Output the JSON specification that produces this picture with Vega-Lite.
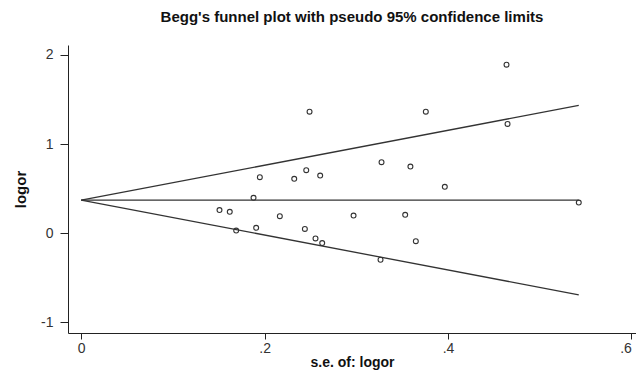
{
  "$schema": "https://vega.github.io/schema/vega-lite/v6.json",
  "width": 568,
  "height": 288,
  "autosize": "none",
  "padding": {"left": 68, "top": 45, "right": 0, "bottom": 38},
  "background": "white",
  "config": {
    "view": {"stroke": null},
    "font": "Liberation Sans",
    "title": {"font": "Liberation Sans", "fontSize": 15, "fontWeight": "bold", "color": "#111"}
  },
  "title": {
    "text": "Begg's funnel plot with pseudo 95% confidence limits",
    "anchor": "middle",
    "offset": 20
  },
  "datasets": {
    "studies": [
      {"se": 0.1508, "logor": 0.258},
      {"se": 0.162, "logor": 0.239},
      {"se": 0.169, "logor": 0.029},
      {"se": 0.1879, "logor": 0.396},
      {"se": 0.1908, "logor": 0.059},
      {"se": 0.1948, "logor": 0.628},
      {"se": 0.2166, "logor": 0.19},
      {"se": 0.2323, "logor": 0.609},
      {"se": 0.2439, "logor": 0.047},
      {"se": 0.2454, "logor": 0.706},
      {"se": 0.249, "logor": 1.363},
      {"se": 0.2555, "logor": -0.06},
      {"se": 0.2606, "logor": 0.646},
      {"se": 0.2628, "logor": -0.112},
      {"se": 0.297, "logor": 0.197},
      {"se": 0.3264, "logor": -0.299},
      {"se": 0.3275, "logor": 0.796},
      {"se": 0.3533, "logor": 0.205},
      {"se": 0.359, "logor": 0.747},
      {"se": 0.3649, "logor": -0.09},
      {"se": 0.3758, "logor": 1.363},
      {"se": 0.3965, "logor": 0.519},
      {"se": 0.4638, "logor": 1.89},
      {"se": 0.4649, "logor": 1.225},
      {"se": 0.5426, "logor": 0.343}
    ],
    "limits": [
      {"se": 0, "logor": 0.37, "limit": "upper"},
      {"se": 0.5426, "logor": 1.433, "limit": "upper"},
      {"se": 0, "logor": 0.37, "limit": "pooled"},
      {"se": 0.5426, "logor": 0.37, "limit": "pooled"},
      {"se": 0, "logor": 0.37, "limit": "lower"},
      {"se": 0.5426, "logor": -0.693, "limit": "lower"}
    ]
  },
  "layer": [
    {
      "data": {"name": "limits"},
      "mark": {"type": "line", "color": "#333", "strokeWidth": 1.3},
      "encoding": {
        "x": {"field": "se", "type": "quantitative"},
        "y": {"field": "logor", "type": "quantitative"},
        "detail": {"field": "limit"}
      }
    },
    {
      "data": {"name": "studies"},
      "mark": {"type": "point", "shape": "circle", "filled": false, "size": 24, "stroke": "#333", "strokeWidth": 1.1, "opacity": 1},
      "encoding": {
        "x": {
          "field": "se", "type": "quantitative",
          "scale": {"domain": [-0.0144, 0.605], "nice": false, "zero": false},
          "axis": {
            "title": "s.e. of: logor",
            "values": [0, 0.2, 0.4, 0.6],
            "labelExpr": "datum.value == 0 ? '0' : replace(format(datum.value, '.1f'), '0.', '.')",
            "labelAlign": {"condition": {"test": "datum.value >= 0.6", "value": "right"}, "value": "center"},
            "labelOverlap": false, "labelBound": false, "labelFlush": false,
            "grid": false, "domainColor": "#222", "tickColor": "#222",
            "tickSize": 6, "labelPadding": 2,
            "labelFont": "Liberation Sans", "labelFontSize": 14, "labelColor": "#333",
            "titleFont": "Liberation Sans", "titleFontSize": 14, "titleFontWeight": "bold", "titleColor": "#111",
            "titlePadding": 0
          }
        },
        "y": {
          "field": "logor", "type": "quantitative",
          "scale": {"domain": [-1.121, 2.111], "nice": false, "zero": false},
          "axis": {
            "title": "logor",
            "values": [-1, 0, 1, 2],
            "labelExpr": "'' + datum.value",
            "grid": false, "domainColor": "#222", "tickColor": "#222",
            "tickSize": 8, "labelPadding": 7, "labelAngle": 0,
            "labelFont": "Liberation Sans", "labelFontSize": 14, "labelColor": "#333",
            "titleFont": "Liberation Sans", "titleFontSize": 15, "titleFontWeight": "bold", "titleColor": "#111",
            "titlePadding": 12
          }
        }
      }
    }
  ]
}
